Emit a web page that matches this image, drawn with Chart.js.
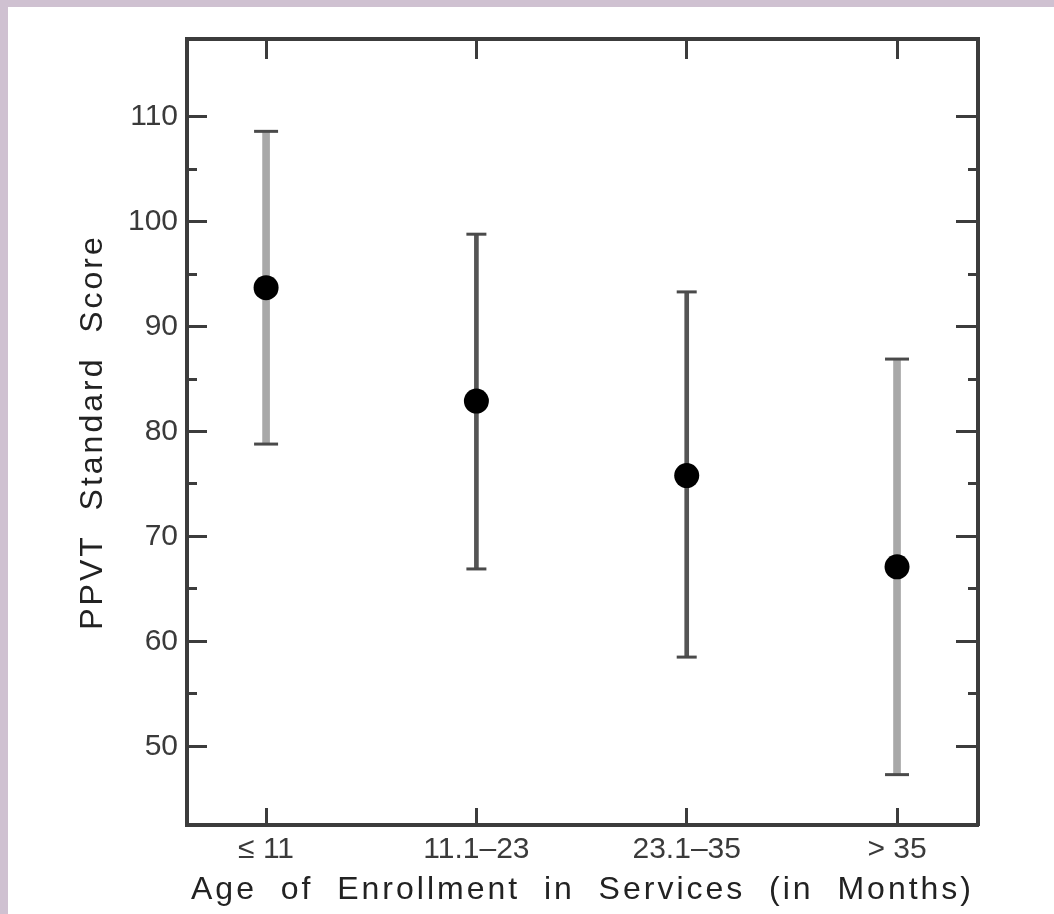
<!DOCTYPE html>
<html>
<head>
<meta charset="utf-8">
<title>PPVT Standard Score by Age of Enrollment</title>
<script src="https://cdn.jsdelivr.net/npm/chart.js@4.4.1/dist/chart.umd.min.js"></script>
<style>
  html, body { margin:0; padding:0; background:#cfc1d1; }
  #panel { position:absolute; left:8px; top:7px; width:1046px; height:907px; background:#fff; }
  canvas { display:block; }
</style>
</head>
<body>
<div id="panel"><canvas id="chart" width="1046" height="907"></canvas></div>
<script>
// Data
const categories = ['≤ 11', '11.1–23', '23.1–35', '> 35'];
const meanScore  = [93.7, 82.9, 75.8, 67.1];
const upperScore = [108.6, 98.8, 93.3, 86.9];
const lowerScore = [78.8, 66.9, 58.5, 47.3];
const yMajorTicks = [50, 60, 70, 80, 90, 100, 110];
const yMinorTicks = [55, 65, 75, 85, 95, 105];

// styles (kept apart from the data)
const whiskerShade = ['light', 'dark', 'dark', 'light'];
const capHalf = { light: 12, dark: 10 };
const frameColor = '#3c3c3c';
const font = 'Liberation Sans';

const idx = categories.map((c, i) => i);

function whiskerData(shade){
  return idx.filter(i => whiskerShade[i] === shade)
            .map(i => ({ x: i, y: [lowerScore[i], upperScore[i]] }));
}
const meanPoints = idx.map(i => ({ x: i, y: meanScore[i] }));
const capPoints = idx.flatMap(i => [{ x: i, y: upperScore[i] }, { x: i, y: lowerScore[i] }]);

// titles get spaced letters, tick labels (drawn after datasets) do not
const titleSpacing = {
  id: 'titleSpacing',
  beforeDraw(chart){ chart.ctx.letterSpacing = '3px'; },
  beforeDatasetsDraw(chart){ chart.ctx.letterSpacing = '0px'; }
};

const Y_MIN = 42.5, Y_MAX = 117.4;
const X_MIN = -0.376, X_MAX = 3.385;

// fixed box sizes so the plot frame lands where it is in the figure
function fixSize(key, size){
  return s => {
    s[key] = size;
    s.paddingTop = 0; s.paddingBottom = 0; s.paddingLeft = 0; s.paddingRight = 0;
  };
}

function yAxis(position, ticks, len, width, weight, labels, border){
  return {
    type: 'linear', position: position, min: Y_MIN, max: Y_MAX, weight: weight, offset: false,
    afterBuildTicks: s => { s.ticks = ticks.map(v => ({ value: v })); },
    afterFit: fixSize('width', width),
    grid: { drawOnChartArea: false, drawTicks: true, tickLength: -len, tickWidth: 3, color: frameColor, tickColor: frameColor },
    border: { display: border, color: frameColor, width: 4 },
    ticks: { display: labels, padding: 29, z: 1, color: '#3a3a3a', font: { family: font, size: 30 } }
  };
}

function xAxis(position, len, height, labels){
  return {
    type: 'linear', position: position, min: X_MIN, max: X_MAX, offset: false,
    afterBuildTicks: s => { s.ticks = idx.map(v => ({ value: v })); },
    afterFit: fixSize('height', height),
    grid: { offset: false, drawOnChartArea: false, tickLength: -len, tickWidth: 3, color: frameColor, tickColor: frameColor },
    border: { color: frameColor, width: 4 },
    ticks: { display: labels, padding: 24, z: 1, color: '#3a3a3a', font: { family: font, size: 30 },
             callback: v => categories[v] }
  };
}

new Chart(document.getElementById('chart'), {
  type: 'scatter',
  data: {
    datasets: [
      { type: 'scatter', label: 'Mean', data: meanPoints, xAxisID: 'x', yAxisID: 'y',
        pointRadius: 12.5, pointHoverRadius: 12.5, backgroundColor: '#000', borderColor: '#000', borderWidth: 0, order: 0 },
      { type: 'scatter', label: 'Caps', data: capPoints, xAxisID: 'x', yAxisID: 'y',
        pointStyle: 'line', pointRadius: c => capHalf[whiskerShade[Math.floor(c.dataIndex / 2)]],
        borderColor: '#4a4a4a', borderWidth: 3, order: 1 },
      { type: 'bar', label: 'Range', data: whiskerData('light'), xAxisID: 'x', yAxisID: 'y',
        backgroundColor: '#a8a8a8', barThickness: 7, grouped: false, borderWidth: 0, order: 2 },
      { type: 'bar', label: 'Range', data: whiskerData('dark'), xAxisID: 'x', yAxisID: 'y',
        backgroundColor: '#545454', barThickness: 4, grouped: false, borderWidth: 0, order: 2 }
    ]
  },
  options: {
    responsive: false,
    animation: false,
    layout: { padding: 0 },
    plugins: { legend: { display: false }, tooltip: { enabled: false } },
    scales: {
      x: Object.assign(xAxis('bottom', 17, 89, true), {
        title: { display: true, text: 'Age  of  Enrollment  in  Services  (in  Months)',
                 color: '#222', font: { family: font, size: 32, lineHeight: 1 }, padding: { top: 0, bottom: 8 } }
      }),
      xTop: xAxis('top', 20, 32, false),
      y: Object.assign(yAxis('left', yMajorTicks, 20, 179, 1, true, true), {
        title: { display: true, text: 'PPVT  Standard  Score', color: '#222',
                 font: { family: font, size: 32, lineHeight: 1 }, padding: { top: 69, bottom: 0 } }
      }),
      yMinor: yAxis('left', yMinorTicks, 10, 0, 0, false, false),
      yR: yAxis('right', yMajorTicks, 22, 76, 1, false, true),
      yRMinor: yAxis('right', yMinorTicks, 10, 0, 0, false, false)
    }
  },
  plugins: [titleSpacing]
});
</script>
</body>
</html>
